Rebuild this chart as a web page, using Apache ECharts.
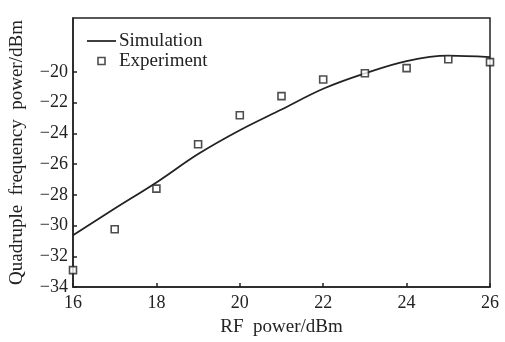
<!DOCTYPE html>
<html><head><meta charset="utf-8">
<script src="https://cdn.jsdelivr.net/npm/echarts@6/dist/echarts.min.js"></script>
<style>html,body{margin:0;padding:0;background:#fff}#c{width:505px;height:342px}</style>
</head><body><div id="c"></div>
<script>
const simX = [16, 17, 18, 19, 20, 21, 22, 23, 24, 25, 26];
const simY = [-30.63, -28.9, -27.2, -25.35, -23.8, -22.45, -21.1, -20.1, -19.3, -18.95, -19.05];
const expX = [16, 17, 18, 19, 20, 21, 22, 23, 24, 25, 26];
const expY = [-32.9, -30.24, -27.6, -24.71, -22.83, -21.58, -20.5, -20.09, -19.76, -19.18, -19.37];
const xTicks = [16, 18, 20, 22, 24, 26];
const yTicks = [-34, -32, -30, -28, -26, -24, -22, -20];

const font = 'Liberation Serif';
const ink = '#222';
const fmt = v => String(v).replace('-', '\u2212');
const chart = echarts.init(document.getElementById('c'), null, {renderer: 'canvas'});
chart.setOption({
  animation: false,
  backgroundColor: '#fff',
  grid: {left: 72, right: 15, top: 18, bottom: 54, show: true, borderColor: ink, borderWidth: 1.5},
  legend: {
    orient: 'vertical', left: 87, top: 31, padding: 0, itemGap: 0,
    itemWidth: 29, itemHeight: 7, symbolKeepAspect: true,
    textStyle: {fontFamily: font, fontSize: 19, color: ink, lineHeight: 20, padding: [0, 0, 0, -2]},
    data: [
      {name: 'Simulation', icon: 'path://M0,0H100V6H0Z', itemStyle: {color: ink, borderWidth: 0}},
      {name: 'Experiment', icon: 'path://M0,0H10V10H0Z', itemStyle: {color: '#fff', borderColor: ink, borderWidth: 1.6}}
    ]
  },
  xAxis: {
    type: 'value', min: 16, max: 26, interval: 2,
    name: 'RF  power/dBm', nameLocation: 'middle', nameGap: 31,
    nameTextStyle: {fontFamily: font, fontSize: 19, color: ink},
    axisLine: {lineStyle: {color: ink, width: 1.5}},
    axisTick: {inside: true, length: 4, lineStyle: {color: ink, width: 1.5}, customValues: xTicks},
    axisLabel: {fontFamily: font, fontSize: 18, color: ink, margin: 7, customValues: xTicks},
    splitLine: {show: false}
  },
  yAxis: {
    type: 'value', min: -34, max: -16.5, interval: 2,
    name: 'Quadruple  frequency  power/dBm', nameLocation: 'middle', nameGap: 46, nameRotate: 90,
    nameTextStyle: {fontFamily: font, fontSize: 19, color: ink},
    axisLine: {lineStyle: {color: ink, width: 1.5}},
    axisTick: {inside: true, length: 4, lineStyle: {color: ink, width: 1.5}, customValues: yTicks},
    axisLabel: {fontFamily: font, fontSize: 18, color: ink, margin: 5, formatter: fmt, customValues: yTicks},
    splitLine: {show: false}
  },
  series: [
    {name: 'Simulation', type: 'line', smooth: 0.35, symbol: 'none',
     lineStyle: {color: ink, width: 1.8}, itemStyle: {color: ink},
     data: simX.map((x, i) => [x, simY[i]]), z: 2},
    {name: 'Experiment', type: 'scatter', symbol: 'rect', symbolSize: 7,
     itemStyle: {color: '#fff', borderColor: ink, borderWidth: 1.6},
     data: expX.map((x, i) => [x, expY[i]]), z: 3}
  ]
});
</script></body></html>
